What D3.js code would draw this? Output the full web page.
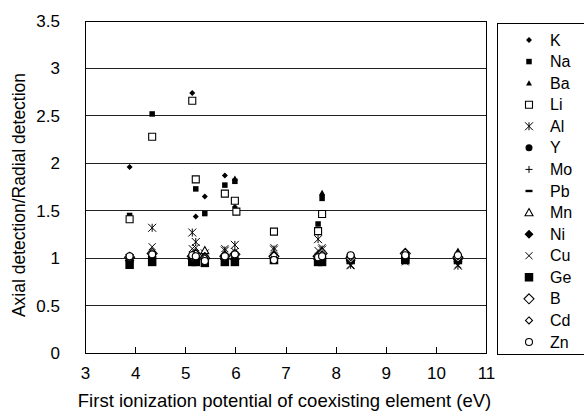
<!DOCTYPE html>
<html><head><meta charset="utf-8">
<script src="https://cdn.jsdelivr.net/npm/d3@7"></script>
<style>body{margin:0;background:#fff}svg{display:block}text{font-family:Arial,"Liberation Sans",sans-serif;fill:#000}</style>
</head><body><svg id="c" width="584" height="417"></svg>
<script>
// First ionization potentials of coexisting elements (eV)
const xs = [3.89, 4.34, 5.14, 5.21, 5.39, 5.79, 5.99, 6.02, 6.77, 7.65, 7.73, 8.30, 9.39, 10.44];
const seriesNames = ["K","Na","Ba","Li","Al","Y","Mo","Pb","Mn","Ni","Cu","Ge","B","Cd","Zn"];
const K  = [1.96, null, 2.74, 1.44, 1.65, 1.87, 1.54, null, 1.00, null, 1.66, 1.00, 1.02, 1.06];
const Na = [1.45, 2.52, null, 1.73, 1.47, 1.77, 1.81, null, 1.00, 1.36, 1.63, 0.99, 0.99, 0.99];
const Ba = [1.00, 1.02, 1.01, 1.00, 1.07, 1.03, 1.84, null, 1.00, 1.02, 1.69, 1.00, 1.02, 1.08];
const Li = [1.41, 2.28, 2.66, 1.83, null, 1.68, 1.605, 1.49, 1.28, 1.285, 1.465, 1.00, 1.00, 1.00];
const Al = [1.00, 1.32, 1.27, 1.17, 1.05, 1.08, 1.14, null, 1.09, 1.20, 1.09, 0.93, 0.99, 0.92];
const Y  = [1.00, 1.01, 1.00, 1.00, 0.99, 1.00, 1.00, null, 0.98, 1.00, 0.99, 1.00, 1.00, 1.00];
const Mo = [0.98, 1.00, 0.99, 1.00, 0.98, 0.99, 0.99, null, 0.99, 0.98, 0.99, 0.99, 0.99, 0.99];
const Pb = [0.97, 0.98, 0.98, 1.00, 0.97, 0.98, 0.98, null, 0.97, 0.99, 0.98, 0.97, 0.98, 0.97];
const Mn = [1.01, 1.03, 1.02, 1.03, 1.08, 1.02, 1.02, null, 1.03, 1.02, 1.03, 1.01, 1.03, 1.02];
const Ni = [1.00, 1.02, 1.01, 1.02, 1.02, 1.01, 1.03, null, 1.00, 1.01, 1.02, 1.00, 1.01, 1.00];
const Cu = [1.00, 1.12, 1.10, 1.11, 1.02, 1.10, 1.07, null, 1.11, 1.08, 1.11, 0.92, 0.96, 0.93];
const Ge = [0.93, 0.96, 0.96, 0.96, 0.95, 0.96, 0.96, null, 0.98, 0.96, 0.96, 0.98, 0.98, 0.98];
const B  = [1.01, 1.05, 1.02, 1.04, 1.00, 1.02, 1.04, null, 1.02, 1.02, 1.05, 1.00, 1.05, 1.01];
const Cd = [1.01, 1.04, 1.02, 1.05, 1.00, 1.03, 1.04, null, 1.03, 1.01, 1.04, 1.01, 1.06, 1.02];
const Zn = [1.02, 1.04, 1.03, 1.02, 0.97, 1.02, 1.04, null, 0.98, 1.01, 1.02, 1.03, 1.03, 1.03];
const xTicks = [3,4,5,6,7,8,9,10,11];
const yTicks = [0,0.5,1,1.5,2,2.5,3,3.5];

const seriesValues = {K,Na,Ba,Li,Al,Y,Mo,Pb,Mn,Ni,Cu,Ge,B,Cd,Zn};
// marker styles
const markers = {
  K:{t:"diamond",s:6,fill:true}, Na:{t:"square",s:5.5,fill:true}, Ba:{t:"triangle",s:6,fill:true},
  Li:{t:"square",s:7,fill:false}, Al:{t:"asterisk",s:8}, Y:{t:"circle",s:7,fill:true},
  Mo:{t:"plus",s:7}, Pb:{t:"dash",s:7,fill:true}, Mn:{t:"triangle",s:8,fill:false},
  Ni:{t:"diamond",s:9,fill:true}, Cu:{t:"x",s:7}, Ge:{t:"square",s:8.5,fill:true},
  B:{t:"diamond",s:10,fill:false}, Cd:{t:"diamond",s:7,fill:false}, Zn:{t:"circle",s:7,fill:false}
};
function shape(t,s){
  const h=s/2;
  switch(t){
    case "diamond": return `M0,${-h}L${h},0L0,${h}L${-h},0Z`;
    case "square": return `M${-h},${-h}H${h}V${h}H${-h}Z`;
    case "triangle": return `M0,${-h}L${h},${h*0.8}L${-h},${h*0.8}Z`;
    case "circle": return `M${h},0A${h},${h} 0 1,1 ${-h},0A${h},${h} 0 1,1 ${h},0Z`;
    case "plus": return `M${-h},0H${h}M0,${-h}V${h}`;
    case "x": return `M${-h},${-h}L${h},${h}M${-h},${h}L${h},${-h}`;
    case "asterisk": return `M${-h},${-h}L${h},${h}M${-h},${h}L${h},${-h}M0,${-h}V${h}`;
    case "dash": return `M${-h},-1.2H${h}V1.2H${-h}Z`;
  }
}
function styleMarker(sel,m){
  const line = (m.t==="plus"||m.t==="x"||m.t==="asterisk");
  sel.attr("d",shape(m.t,m.s))
     .attr("fill", line?"none":(m.fill?"#000":"#fff"))
     .attr("stroke", line?"#000":(m.fill?"none":"#000"))
     .attr("stroke-width", line?1:1.1);
}

const svg = d3.select("#c");
const L=85,R=486,T=21,Bt=353;
const x = d3.scaleLinear().domain([3,11]).range([L,R]);
const y = d3.scaleLinear().domain([0,3.5]).range([Bt,T]);

// gridlines
svg.append("g").selectAll("line").data(yTicks.filter(v=>v>0)).join("line")
  .attr("x1",L).attr("x2",R).attr("y1",d=>y(d)).attr("y2",d=>y(d))
  .attr("stroke","#222").attr("stroke-width",1).attr("shape-rendering","crispEdges");
// frame
svg.append("rect").attr("x",L).attr("y",T).attr("width",R-L).attr("height",Bt-T)
  .attr("fill","none").attr("stroke","#000").attr("stroke-width",1).attr("shape-rendering","crispEdges");

// axes
const xAxis = d3.axisBottom(x).tickValues(xTicks).tickSize(-6).tickPadding(14).tickFormat(d3.format("d"));
const gx = svg.append("g").attr("transform",`translate(0,${Bt})`).call(xAxis);
gx.select(".domain").remove();
gx.selectAll("line").attr("stroke","#000").attr("shape-rendering","crispEdges");
gx.selectAll("text").attr("font-size",17).attr("font-family","Arial, 'Liberation Sans', sans-serif");
const yAxis = d3.axisLeft(y).tickValues(yTicks).tickSize(0).tickPadding(25).tickFormat(d=>String(d));
const gy = svg.append("g").attr("transform",`translate(${L},0)`).call(yAxis);
gy.select(".domain").remove();
gy.selectAll("text").attr("font-size",17).attr("font-family","Arial, 'Liberation Sans', sans-serif");

// points
seriesNames.forEach(name=>{
  const vals = seriesValues[name];
  const pts = xs.map((xv,i)=>({x:xv,v:vals[i]})).filter(d=>d.v!=null);
  svg.append("g").selectAll("path").data(pts).join("path")
    .attr("transform",d=>`translate(${x(d.x)},${y(d.v)})`)
    .call(styleMarker, markers[name]);
});

// axis titles
svg.append("text").attr("x",(L+R)/2 - 1).attr("y",407).attr("text-anchor","middle")
  .attr("font-size",18.5).text("First ionization potential of coexisting element (eV)");
svg.append("text").attr("transform",`translate(25,${(T+Bt)/2 + 8}) rotate(-90)`).attr("text-anchor","middle")
  .attr("font-size",17.5).text("Axial detection/Radial detection");

// legend
svg.append("rect").attr("x",497.5).attr("y",23.5).attr("width",100).attr("height",331)
  .attr("fill","none").attr("stroke","#000").attr("stroke-width",1);
const lg = svg.append("g").selectAll("g").data(seriesNames).join("g")
  .attr("transform",(d,i)=>`translate(529,${40+i*21.57})`);
lg.append("path").each(function(d){ d3.select(this).call(styleMarker, markers[d]); });
lg.append("text").attr("x",21).attr("dy","0.35em").attr("font-size",16).text(d=>d);
</script></body></html>
